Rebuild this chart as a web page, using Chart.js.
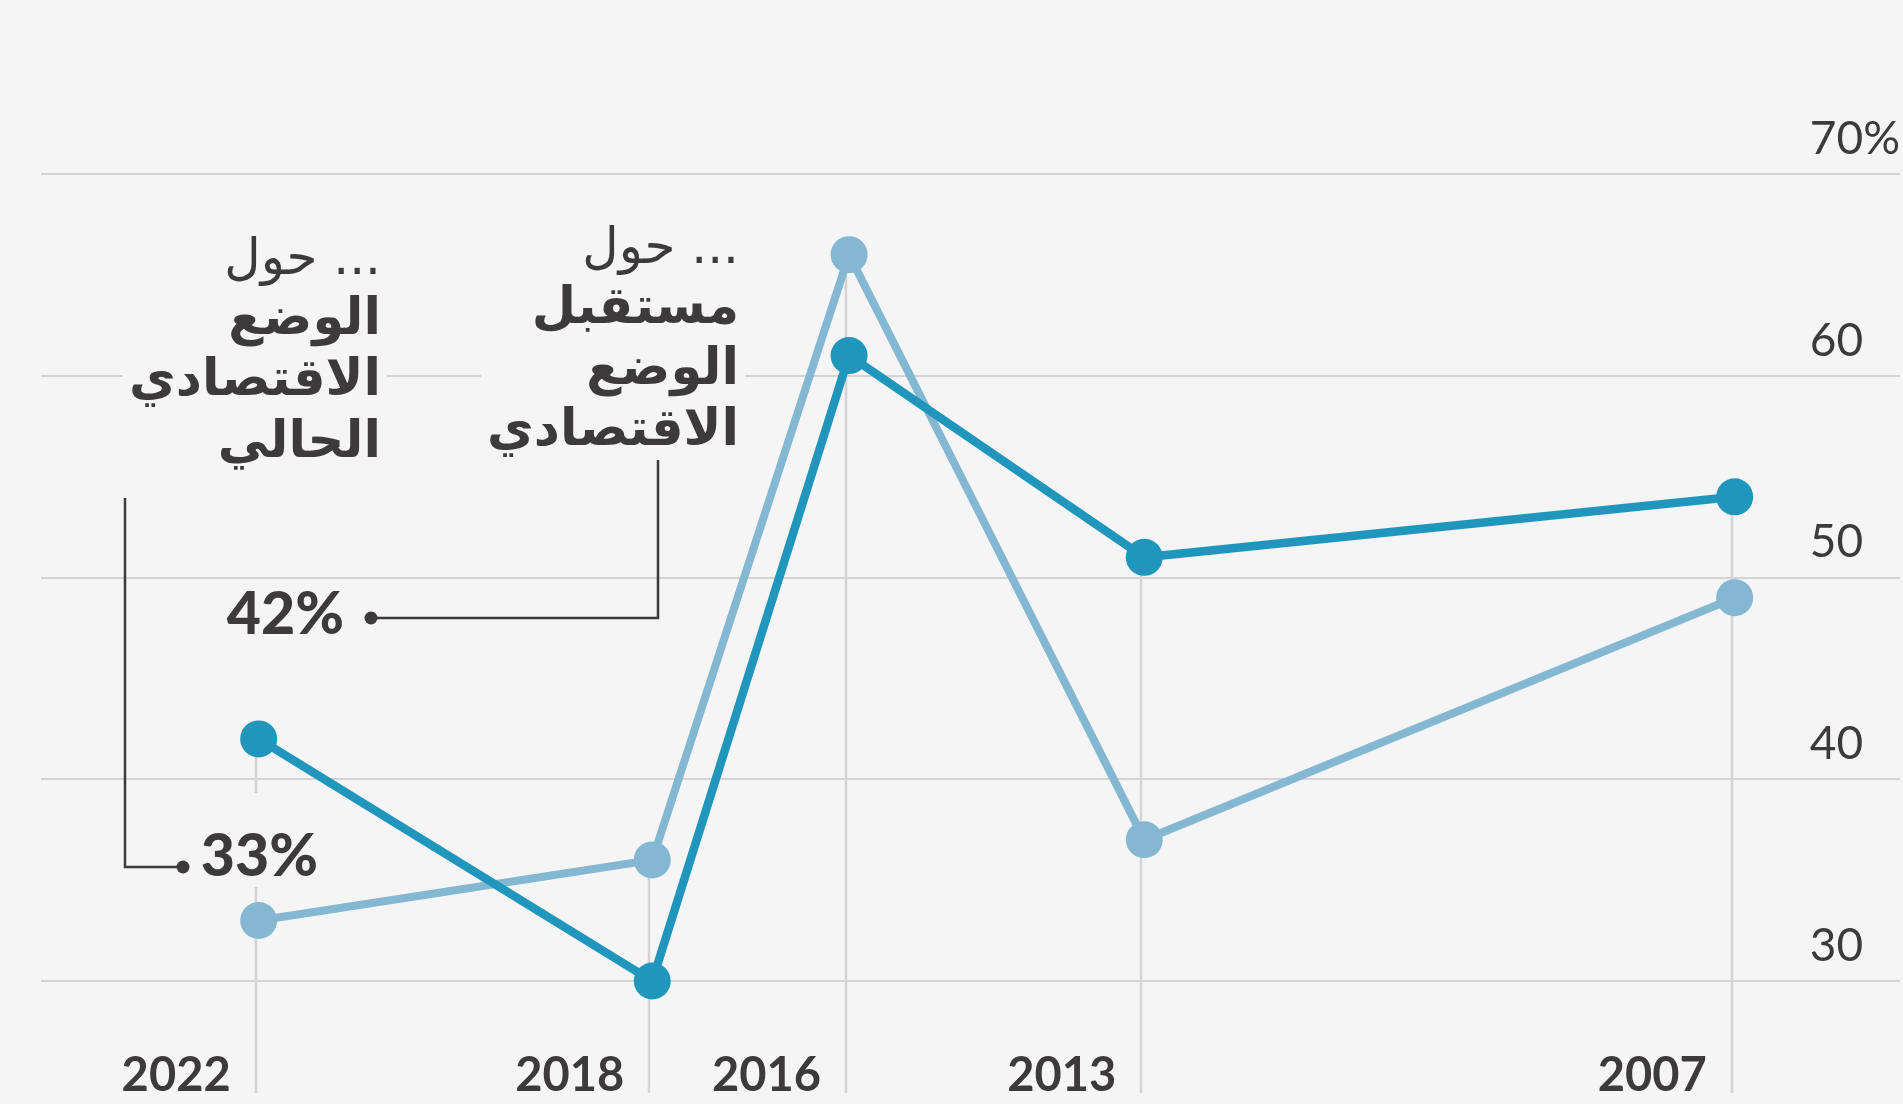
<!DOCTYPE html>
<html lang="ar">
<head>
  <meta charset="UTF-8" />
  <title>Chart</title>
  <script src="https://cdn.jsdelivr.net/npm/chart.js"></script>
  <style>
    html, body { margin: 0; padding: 0; background: #f5f5f5; }
    #wrap { width: 1903px; height: 1104px; position: relative; }
  </style>
</head>
<body>
  <div id="wrap"><canvas id="chart" width="1903" height="1104"></canvas></div>

  <script>
    // years (x axis, drawn right-to-left)
    const years = [2007, 2013, 2016, 2018, 2022];
    // ... about the future of the economic situation (dark)
    const futureValues = [54, 51, 61, 30, 42];
    // ... about the current economic situation (light)
    const currentValues = [49, 37, 66, 36, 33];

    const yTicks = [30, 40, 50, 60, 70];
    const yTickLabels = ['30', '40', '50', '60', '70%'];

    const futureText = ['... حول', 'مستقبل', 'الوضع', 'الاقتصادي'];
    const currentText = ['... حول', 'الوضع', 'الاقتصادي', 'الحالي'];
    const futureLabel = '42%';
    const currentLabel = '33%';

    const DARK = '#2196bc';
    const LIGHT = '#84b7d2';
    const INK = '#3d3a3b';
    const BG = '#f5f5f5';
    const GRID = '#d4d4d4';

    const toPoints = vals => years.map((y, i) => ({ x: y, y: vals[i] }));

    // text blocks with a backdrop that hides the grid behind them
    function drawBlock(ctx, lines, right, baselines) {
      ctx.save();
      ctx.direction = 'rtl';
      ctx.textAlign = 'right';
      ctx.textBaseline = 'alphabetic';
      const fontFor = i => (i === 0 ? '400 50px' : '700 51px') + ' "DejaVu Sans"';
      let w = 0;
      lines.forEach((t, i) => {
        ctx.font = fontFor(i);
        w = Math.max(w, ctx.measureText(t).width);
      });
      ctx.fillStyle = BG;
      ctx.fillRect(right - w - 6, baselines[0] - 45, w + 12, baselines[baselines.length - 1] - baselines[0] + 68);
      ctx.fillStyle = INK;
      lines.forEach((t, i) => {
        ctx.font = fontFor(i);
        ctx.fillText(t, right, baselines[i]);
      });
      ctx.restore();
    }

    function connector(ctx, pts) {
      ctx.save();
      ctx.strokeStyle = INK;
      ctx.lineWidth = 2.5;
      ctx.beginPath();
      pts.forEach((p, i) => i ? ctx.lineTo(p[0], p[1]) : ctx.moveTo(p[0], p[1]));
      ctx.stroke();
      const end = pts[pts.length - 1];
      ctx.fillStyle = INK;
      ctx.beginPath();
      ctx.arc(end[0], end[1], 6.5, 0, Math.PI * 2);
      ctx.fill();
      ctx.restore();
    }

    const decor = {
      id: 'decor',
      beforeDatasetsDraw(chart) {
        const ctx = chart.ctx;
        const xs = chart.scales.x, ys = chart.scales.y;
        const bottom = chart.chartArea.bottom + 112;

        // vertical guides from the highest point of each year down
        ctx.save();
        ctx.strokeStyle = GRID;
        ctx.lineWidth = 2.5;
        years.forEach((yr, i) => {
          const top = ys.getPixelForValue(Math.max(futureValues[i], currentValues[i]));
          const x = Math.round(xs.getPixelForValue(yr)) - 3;
          ctx.beginPath();
          ctx.moveTo(x, top);
          ctx.lineTo(x, bottom);
          ctx.stroke();
        });
        ctx.restore();

        // annotation blocks
        drawBlock(ctx, currentText, 381, [274, 334, 395, 457]);
        drawBlock(ctx, futureText, 739, [263, 323, 384, 445]);

        connector(ctx, [[658, 460], [658, 618], [371, 618]]);
        connector(ctx, [[125, 498], [125, 867], [183, 867]]);

        ctx.save();
        ctx.fillStyle = BG;
        ctx.fillRect(196, 793, 128, 94);
        ctx.fillStyle = INK;
        ctx.font = '900 59px Lato';
        ctx.textAlign = 'right';
        ctx.textBaseline = 'alphabetic';
        ctx.fillText(futureLabel, 344, 634);
        ctx.fillText(currentLabel, 318, 876);
        ctx.restore();
      }
    };

    new Chart(document.getElementById('chart'), {
      type: 'line',
      data: {
        datasets: [
          {
            label: 'future',
            data: toPoints(futureValues),
            borderColor: DARK,
            backgroundColor: DARK,
            borderWidth: 8.5,
            pointRadius: 18.5,
            pointHoverRadius: 18.5,
            pointBorderWidth: 0,
            tension: 0,
            clip: false
          },
          {
            label: 'current',
            data: toPoints(currentValues),
            borderColor: LIGHT,
            backgroundColor: LIGHT,
            borderWidth: 8,
            pointRadius: 18.5,
            pointHoverRadius: 18.5,
            pointBorderWidth: 0,
            tension: 0,
            clip: false
          }
        ]
      },
      options: {
        responsive: false,
        animation: false,
        events: [],
        layout: { autoPadding: false, padding: { left: 41, right: 3, top: 174, bottom: 0 } },
        plugins: { legend: { display: false }, tooltip: { enabled: false } },
        scales: {
          x: {
            type: 'linear',
            reverse: true,
            min: 2005.32,
            max: 2024.212,
            afterBuildTicks: s => { s.ticks = years.map(v => ({ value: v })); },
            afterFit: s => { s.height = 123; s.paddingLeft = 0; s.paddingRight = 0; },
            grid: { display: false },
            border: { display: false },
            ticks: {
              autoSkip: false,
              maxRotation: 0,
              align: 'end',
              labelOffset: -28,
              padding: 59,
              color: INK,
              font: { family: 'Lato', size: 47, weight: '700' },
              callback: v => String(v)
            }
          },
          y: {
            position: 'right',
            min: 30,
            max: 70,
            afterBuildTicks: s => { s.ticks = yTicks.map(v => ({ value: v })); },
            afterFit: s => { s.width = 0; s.paddingTop = 0; s.paddingBottom = 0; },
            grid: { color: GRID, lineWidth: 2, drawTicks: false },
            border: { display: false },
            ticks: {
              mirror: true,
              crossAlign: 'far',
              padding: 0,
              labelOffset: -35,
              color: INK,
              font: { family: 'Lato', size: 46, weight: '400' },
              callback: v => yTickLabels[yTicks.indexOf(v)]
            }
          }
        }
      },
      plugins: [decor]
    });
  </script>
</body>
</html>
